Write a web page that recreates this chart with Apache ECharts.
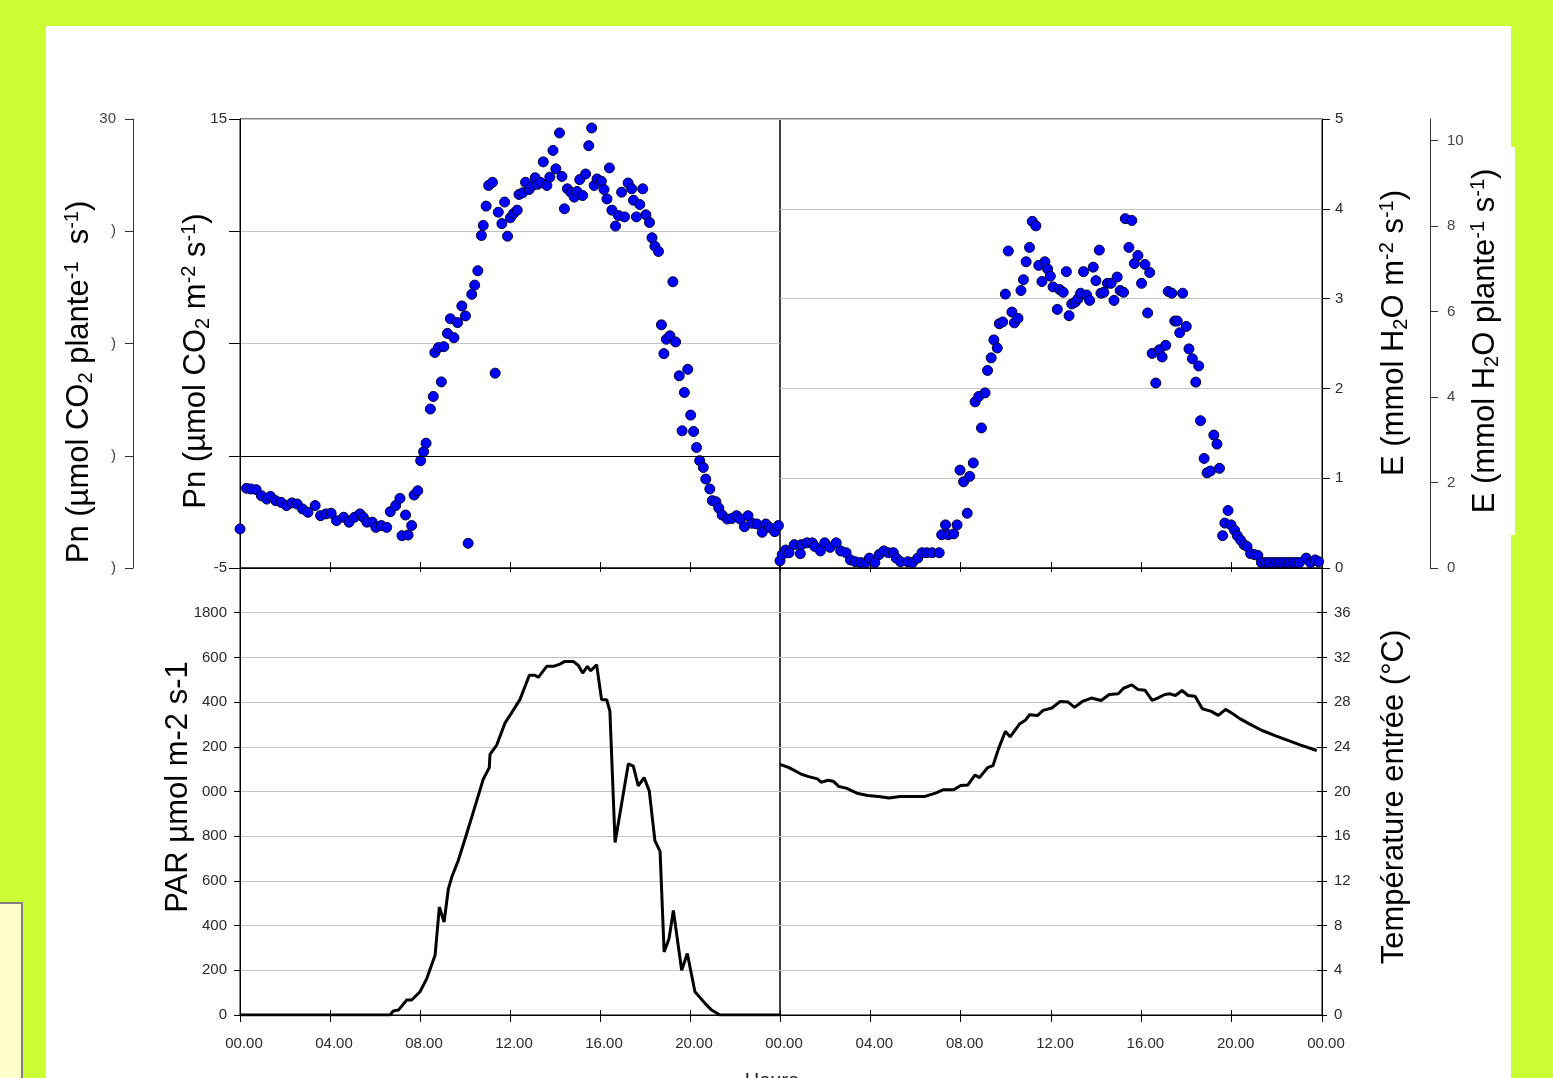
<!DOCTYPE html>
<html><head><meta charset="utf-8">
<script src="https://cdn.jsdelivr.net/npm/echarts@6/dist/echarts.min.js"></script>
<style>html,body{margin:0;padding:0;background:#ccff33;overflow:hidden}#c{width:1553px;height:1078px;}</style>
</head><body><div id="c"></div>
<script>
// ---- data ----
const hourTickLabels = ['00.00','04.00','08.00','12.00','16.00','20.00','00.00'];

const pnHours = [0,0.29,0.48,0.72,0.95,1.19,1.35,1.59,1.83,2.07,2.31,2.54,2.78,3.02,3.34,3.58,3.82,4.05,4.29,4.61,4.85,5.09,5.33,5.48,5.64,5.88,6.04,6.28,6.52,6.68,6.92,7.11,7.2,7.36,7.47,7.63,7.74,7.9,8.03,8.16,8.27,8.46,8.59,8.66,8.82,8.95,9.06,9.22,9.35,9.51,9.67,9.86,10.02,10.14,10.3,10.43,10.57,10.73,10.81,10.94,11.05,11.22,11.34,11.48,11.64,11.76,11.89,12.02,12.16,12.32,12.4,12.56,12.69,12.85,13.0,13.12,13.23,13.35,13.48,13.64,13.77,13.91,14.04,14.2,14.31,14.42,14.55,14.71,14.86,14.98,15.1,15.23,15.36,15.5,15.63,15.74,15.87,16.06,16.18,16.31,16.42,16.53,16.69,16.82,16.96,17.09,17.25,17.41,17.49,17.62,17.77,17.9,18.04,18.2,18.31,18.44,18.6,18.73,18.84,18.95,19.11,19.24,19.36,19.52,19.65,19.75,19.9,20.03,20.16,20.29,20.43,20.59,20.7,20.88,20.99,21.15,21.28,21.43,21.66,21.87,22.07,22.23,22.42,22.58,22.77,22.97,23.21,23.37,23.53,23.77,23.93];
const pnValues = [-3.26,-1.45,-1.48,-1.51,-1.78,-1.93,-1.81,-2.0,-2.08,-2.22,-2.1,-2.15,-2.37,-2.52,-2.22,-2.67,-2.59,-2.56,-2.89,-2.74,-2.96,-2.74,-2.59,-2.74,-2.96,-2.96,-3.19,-3.11,-3.19,-2.49,-2.22,-1.9,-3.56,-2.64,-3.53,-3.11,-1.75,-1.56,-0.22,0.18,0.56,2.08,2.64,4.6,4.82,3.29,4.86,5.45,6.1,5.26,5.93,6.67,6.23,-3.9,7.19,7.6,8.24,9.81,10.26,11.12,12.04,12.18,3.68,10.85,10.34,11.3,9.78,10.6,10.79,10.94,11.64,11.71,12.18,11.86,12.04,12.38,12.09,12.18,13.09,12.04,12.41,13.6,12.78,14.38,12.44,11.0,11.89,11.73,11.52,11.77,12.3,11.59,12.55,13.81,14.6,12.04,12.33,12.23,11.86,11.44,12.82,10.94,10.23,10.7,11.74,10.64,12.15,11.89,11.38,10.64,11.19,11.89,10.73,10.39,9.71,9.33,9.1,5.83,4.55,5.19,5.34,7.75,5.07,3.56,1.11,2.82,3.85,1.81,1.08,0.37,-0.22,-0.52,-1.04,-1.48,-2.0,-2.05,-2.33,-2.64,-2.82,-2.79,-2.67,-2.82,-3.16,-2.67,-3.01,-3.04,-3.41,-3.04,-3.19,-3.38,-3.11];

const eHours = [0.0,0.1,0.25,0.4,0.63,0.9,0.95,1.19,1.43,1.54,1.79,1.98,2.22,2.49,2.69,2.93,3.12,3.33,3.57,3.8,3.96,4.2,4.39,4.6,4.8,5.02,5.15,5.34,5.66,5.86,6.1,6.29,6.5,6.74,7.05,7.16,7.33,7.45,7.69,7.84,7.97,8.13,8.29,8.4,8.56,8.64,8.8,8.92,9.08,9.19,9.35,9.47,9.62,9.71,9.86,9.98,10.11,10.27,10.38,10.54,10.67,10.78,10.9,11.05,11.17,11.33,11.46,11.6,11.73,11.85,11.97,12.09,12.28,12.39,12.54,12.68,12.8,12.92,13.07,13.2,13.31,13.44,13.58,13.71,13.87,13.99,14.14,14.21,14.34,14.5,14.66,14.79,14.93,15.06,15.21,15.29,15.45,15.58,15.69,15.85,16.01,16.16,16.28,16.37,16.48,16.64,16.8,16.92,17.08,17.19,17.35,17.48,17.59,17.7,17.83,17.99,18.11,18.26,18.41,18.54,18.62,18.78,18.91,19.06,19.21,19.35,19.46,19.6,19.7,19.84,19.97,20.13,20.25,20.4,20.55,20.68,20.84,21.0,21.16,21.32,21.5,21.65,21.8,21.95,22.1,22.25,22.4,22.55,22.7,22.85,23.0,23.3,23.49,23.7,23.85];
const eValues = [0.08,0.15,0.2,0.17,0.26,0.16,0.26,0.28,0.28,0.24,0.19,0.28,0.23,0.28,0.19,0.17,0.09,0.07,0.06,0.06,0.11,0.06,0.15,0.19,0.17,0.17,0.11,0.07,0.07,0.06,0.11,0.17,0.17,0.17,0.17,0.37,0.48,0.37,0.38,0.48,1.09,0.96,0.61,1.02,1.17,1.85,1.91,1.56,1.95,2.2,2.34,2.54,2.45,2.72,2.74,3.05,3.53,2.85,2.73,2.78,3.09,3.21,3.41,3.57,3.86,3.81,3.37,3.19,3.41,3.33,3.25,3.13,2.88,3.1,3.07,3.3,2.81,2.94,2.96,3.0,3.06,3.3,3.04,2.98,3.35,3.2,3.54,3.06,3.07,3.17,3.17,2.98,3.24,3.09,3.07,3.89,3.57,3.87,3.39,3.48,3.17,3.38,2.84,3.29,2.39,2.06,2.43,2.35,2.48,3.08,3.06,2.75,2.75,2.62,3.06,2.69,2.44,2.33,2.07,2.25,1.64,1.22,1.06,1.08,1.48,1.38,1.11,0.36,0.5,0.64,0.48,0.42,0.36,0.31,0.26,0.24,0.16,0.15,0.14,0.06,0.06,0.06,0.06,0.06,0.06,0.06,0.06,0.06,0.06,0.06,0.06,0.11,0.06,0.09,0.07];

const parHours = [0,6.67,6.81,7.04,7.41,7.63,8.0,8.3,8.67,8.86,9.07,9.26,9.41,9.7,10.07,10.52,10.81,11.08,11.11,11.41,11.78,12.07,12.44,12.67,12.86,13.1,13.26,13.63,13.93,14.22,14.44,14.81,15.04,15.23,15.44,15.59,15.85,16.07,16.3,16.44,16.67,17.26,17.48,17.7,17.96,18.19,18.44,18.67,18.85,19.07,19.26,19.63,19.88,20.22,20.67,20.96,21.33,24];
const parValues = [0,0,18,22,67,67,104,163,267,483,416,564,616,691,810,958,1055,1107,1166,1208,1307,1352,1411,1471,1520,1520,1511,1560,1560,1570,1582,1582,1564,1530,1560,1540,1567,1411,1411,1359,772,1124,1114,1025,1062,1003,780,732,282,342,468,200,275,104,52,22,0,0];

const tempHours = [0,0.4,0.95,1.27,1.66,1.82,2.14,2.38,2.61,2.93,3.41,3.88,4.36,4.83,5.31,5.78,6.42,6.89,7.21,7.69,8.0,8.32,8.64,8.83,9.19,9.43,9.67,9.98,10.19,10.62,10.86,11.05,11.41,11.65,12.04,12.41,12.76,13.04,13.39,13.79,14.22,14.58,14.98,15.21,15.58,15.85,16.16,16.48,16.72,17.04,17.27,17.51,17.8,18.07,18.38,18.7,19.1,19.41,19.73,20.05,20.36,20.76,21.32,21.95,22.58,23.06,23.77];
const tempValues = [22.43,22.13,21.54,21.33,21.13,20.83,21.0,20.89,20.44,20.3,19.85,19.64,19.56,19.41,19.56,19.56,19.56,19.85,20.15,20.15,20.53,20.59,21.48,21.24,22.13,22.31,23.79,25.39,24.89,26.07,26.37,26.87,26.81,27.26,27.47,28.06,28.0,27.53,28.06,28.36,28.15,28.68,28.74,29.24,29.54,29.13,29.07,28.15,28.36,28.68,28.74,28.59,29.04,28.59,28.53,27.41,27.17,26.81,27.35,26.96,26.52,26.07,25.48,24.98,24.5,24.15,23.67];

// ---- chart ----
const zip = (a, b) => a.map((v, i) => [v, b[i]]);
const FN = '"Liberation Sans", Arial, sans-serif';
const FT = '"Liberation Sans", Arial, sans-serif';
const GRIDC = '#c4c4c4';
const lbl = (o) => Object.assign({ color: '#2a2a2a', fontFamily: FN, fontSize: 15 }, o || {});

function xAxis(grid, inside, labels, extra) {
  return Object.assign({
    type: 'value', gridIndex: grid, min: 0, max: 24, interval: 4, position: 'bottom',
    axisLine: { show: true, onZero: false, lineStyle: { color: '#000', width: 1 } },
    axisTick: { show: true, inside: inside, length: inside ? 6 : 7, lineStyle: { color: '#000' } },
    axisLabel: labels ? lbl({ margin: 21, padding: [0, 0, 0, 8], formatter: v => hourTickLabels[Math.round(v / 4)] }) : { show: false },
    splitLine: { show: false }
  }, extra || {});
}

const titleRich = {
  sub: { fontSize: 20, fontFamily: FT, verticalAlign: 'bottom', lineHeight: 18 },
  sup: { fontSize: 20, fontFamily: FT, verticalAlign: 'top', lineHeight: 22 }
};
function vTitle(x, y, text) {
  return { type: 'text', x: x, y: y, rotation: Math.PI / 2, z: 50,
    style: { text: text, fontSize: 31, fontFamily: FT, fill: '#000', align: 'center', verticalAlign: 'middle', lineHeight: 34, rich: titleRich } };
}

const gridBase = { show: true, borderColor: '#000', borderWidth: 1, backgroundColor: 'rgba(0,0,0,0)', containLabel: false, outerBoundsMode: 'none' };

const option = {
  animation: false,
  backgroundColor: '#ccff33',
  graphic: [
    { type: 'rect', z: -10, shape: { x: 46, y: 26, width: 1465, height: 1060 }, style: { fill: '#ffffff' } },
    { type: 'rect', z: -10, shape: { x: 1511, y: 147, width: 4, height: 388 }, style: { fill: '#ffffff' } },
    { type: 'rect', z: -10, shape: { x: -4, y: 903, width: 26, height: 190 }, style: { fill: '#ffffcc', stroke: '#808080', lineWidth: 2 } },
    vTitle(79, 382, 'Pn (µmol CO{sub|2} plante{sup|-1}  s{sup|-1})'),
    vTitle(196, 361, 'Pn (µmol CO{sub|2} m{sup|-2} s{sup|-1})'),
    vTitle(1394, 333, 'E (mmol H{sub|2}O m{sup|-2} s{sup|-1})'),
    vTitle(1485, 341, 'E (mmol H{sub|2}O plante{sup|-1} s{sup|-1})'),
    vTitle(178, 787, 'PAR µmol m-2 s-1'),
    vTitle(1394, 797, 'Température entrée (°C)'),
    { type: 'text', x: 772, y: 1071, z: 50, style: { text: 'Heure', fontSize: 20, fontFamily: FT, fill: '#222', align: 'center', verticalAlign: 'top' } }
  ],
  grid: [
    Object.assign({ left: 240, top: 119, width: 540, height: 449 }, gridBase),
    Object.assign({ left: 780, top: 119, width: 542, height: 449 }, gridBase),
    Object.assign({ left: 240, top: 568, width: 540, height: 447 }, gridBase),
    Object.assign({ left: 780, top: 568, width: 542, height: 447 }, gridBase)
  ],
  xAxis: [
    xAxis(0, true, false),
    xAxis(0, false, false, { axisLine: { show: false, onZero: false }, axisTick: { show: true, inside: false, length: 4, lineStyle: { color: '#000' } } }),
    xAxis(1, true, false),
    xAxis(1, false, false, { axisLine: { show: false, onZero: false }, axisTick: { show: true, inside: false, length: 4, lineStyle: { color: '#000' } } }),
    xAxis(2, false, true, {}),
    xAxis(2, true, false, { axisLine: { show: false, onZero: false }, axisTick: { show: true, inside: true, length: 5, lineStyle: { color: '#000' } } }),
    xAxis(3, false, true),
    xAxis(3, true, false, { axisLine: { show: false, onZero: false }, axisTick: { show: true, inside: true, length: 5, lineStyle: { color: '#000' } } })
  ],
  yAxis: [
    { type: 'value', gridIndex: 0, position: 'left', min: -5, max: 15, interval: 5,
      axisLine: { show: true, onZero: false, lineStyle: { color: '#000' } },
      axisTick: { show: true, length: 11, lineStyle: { color: '#000' } },
      axisLabel: lbl({ margin: 13, formatter: v => (v === 15 || v === -5) ? String(v) : '' }),
      splitLine: { show: true, lineStyle: { color: GRIDC, width: 1 } } },
    { type: 'value', gridIndex: 0, position: 'left', offset: 107, min: -10, max: 30, interval: 10,
      axisLine: { show: true, onZero: false, lineStyle: { color: '#333' } },
      axisTick: { show: true, length: 8, lineStyle: { color: '#333' } },
      axisLabel: lbl({ margin: 17, color: '#444', formatter: v => v === 30 ? '30' : ')' }),
      splitLine: { show: false } },
    { type: 'value', gridIndex: 1, position: 'right', min: 0, max: 5, interval: 1,
      axisLine: { show: true, onZero: false, lineStyle: { color: '#000' } },
      axisTick: { show: true, length: 8, lineStyle: { color: '#000' } },
      axisLabel: lbl({ margin: 13 }),
      splitLine: { show: true, lineStyle: { color: GRIDC, width: 1 } } },
    { type: 'value', gridIndex: 1, position: 'right', offset: 108, min: 0, max: 10.5,
      axisLine: { show: true, onZero: false, lineStyle: { color: '#333' } },
      axisTick: { show: true, length: 8, customValues: [0, 2, 4, 6, 8, 10], lineStyle: { color: '#333' } },
      axisLabel: lbl({ margin: 17, color: '#444', customValues: [0, 2, 4, 6, 8, 10] }),
      splitLine: { show: false } },
    { type: 'value', gridIndex: 2, position: 'left', min: 0, max: 2000, interval: 200,
      axisLine: { show: true, onZero: false, lineStyle: { color: '#000' } },
      axisTick: { show: true, length: 6, lineStyle: { color: '#000' } },
      axisLabel: lbl({ margin: 13, formatter: v => v === 2000 ? '' : (v >= 1000 && v < 1800 ? String(v).slice(1) : String(v)) }),
      splitLine: { show: true, lineStyle: { color: GRIDC, width: 1 } } },
    { type: 'value', gridIndex: 3, position: 'right', min: 0, max: 40, interval: 4,
      axisLine: { show: true, onZero: false, lineStyle: { color: '#000' } },
      axisTick: { show: true, length: 5, lineStyle: { color: '#000' } },
      axisLabel: lbl({ margin: 12, formatter: v => v === 40 ? '' : String(v) }),
      splitLine: { show: true, lineStyle: { color: GRIDC, width: 1 } } },
    { type: 'value', gridIndex: 3, position: 'right', min: 0, max: 40, interval: 4,
      axisLine: { show: false, onZero: false },
      axisTick: { show: true, inside: true, length: 5, lineStyle: { color: '#000' } },
      axisLabel: { show: false }, splitLine: { show: false } }
  ],
  series: [
    { type: 'scatter', xAxisIndex: 0, yAxisIndex: 0, data: zip(pnHours, pnValues), symbolSize: 10,
      itemStyle: { color: '#0000ff', borderColor: '#000033', borderWidth: 1, opacity: 1 },
      markLine: { silent: true, symbol: 'none', label: { show: false }, lineStyle: { color: '#000', width: 1, type: 'solid' }, data: [{ yAxis: 0 }] } },
    { type: 'scatter', xAxisIndex: 2, yAxisIndex: 2, data: zip(eHours, eValues), symbolSize: 10,
      itemStyle: { color: '#0000ff', borderColor: '#000033', borderWidth: 1, opacity: 1 } },
    { type: 'line', xAxisIndex: 4, yAxisIndex: 4, data: zip(parHours, parValues), symbol: 'none', showSymbol: false,
      lineStyle: { color: '#000', width: 3 } },
    { type: 'line', xAxisIndex: 6, yAxisIndex: 5, data: zip(tempHours, tempValues), symbol: 'none', showSymbol: false,
      lineStyle: { color: '#000', width: 3 } }
  ]
};
// hide the duplicate 24h label of the left bottom panel
option.xAxis[4].axisLabel.showMaxLabel = false;

const chart = echarts.init(document.getElementById('c'), null, { renderer: 'canvas' });
chart.setOption(option);
</script>
</body></html>
